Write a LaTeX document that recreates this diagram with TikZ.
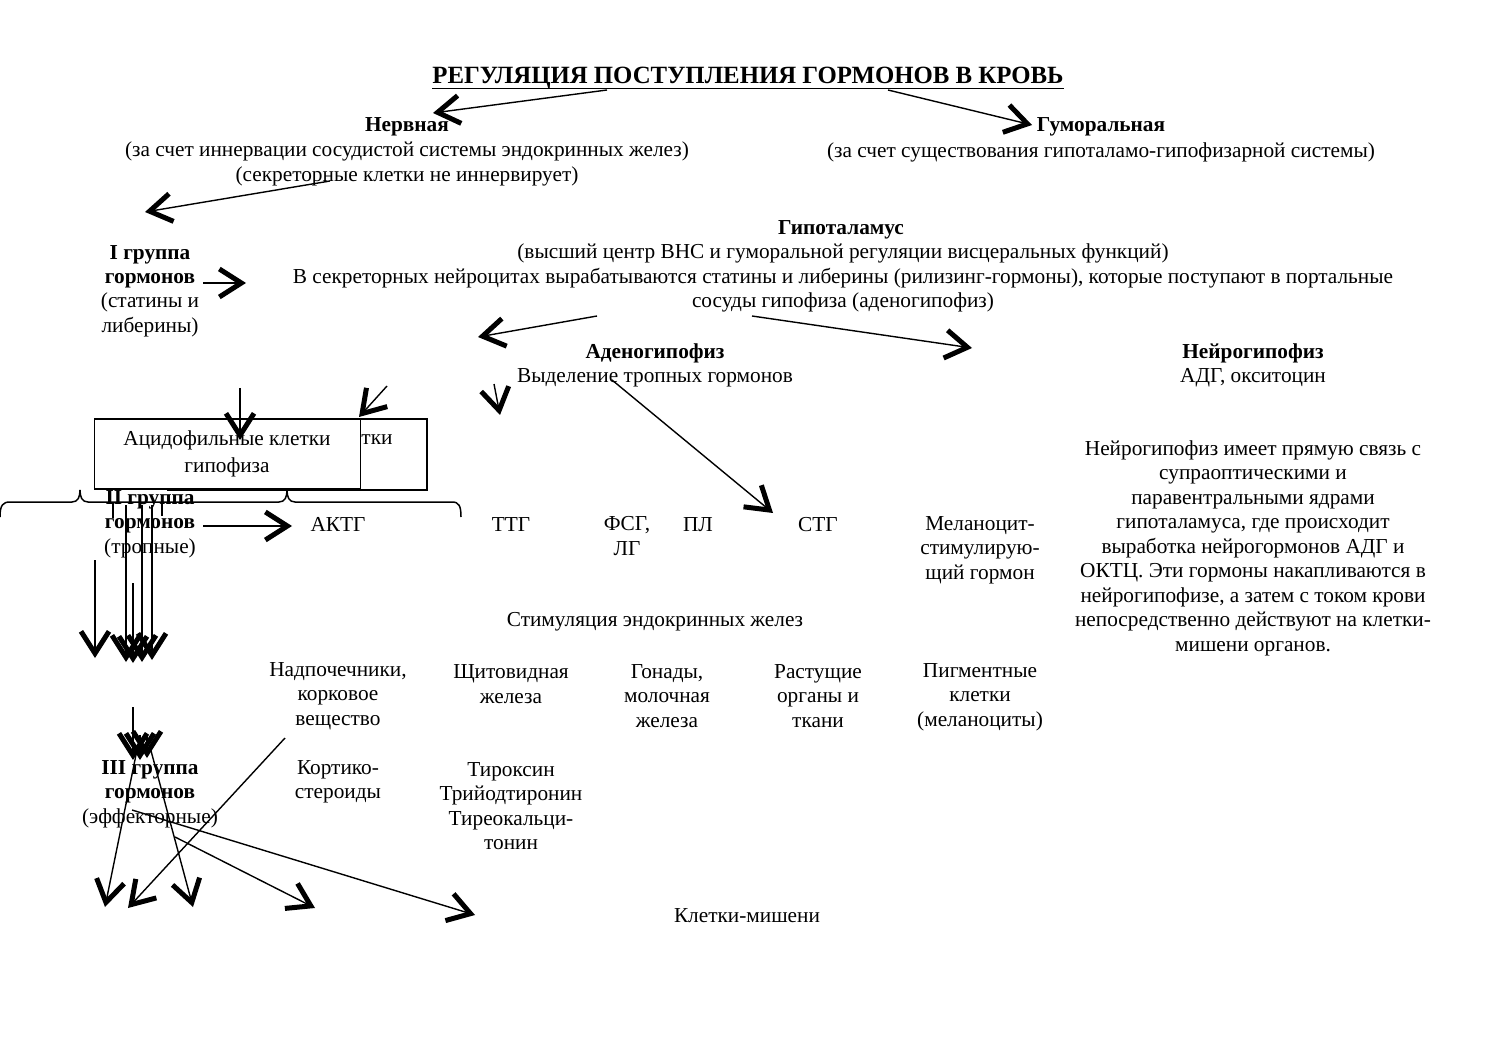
\documentclass[tikz,border=0pt]{standalone}
\usepackage{fontspec}
\setmainfont{Liberation Serif}
\usetikzlibrary{arrows.meta}
\begin{document}
\begin{tikzpicture}[x=0.5pt,y=-0.5pt,
  txt/.style={font=\fontsize{10.65}{12.25}\selectfont, inner sep=0pt, align=center},
  bt/.style={inner sep=0pt, align=center, font=\fontsize{10.65}{12.25}\selectfont\bfseries},
  ln/.style={line width=0.75pt},
  arr/.style={line width=0.7pt, -{Straight Barb[length=11pt,width=14pt,line width=2.5pt]}},
  boxst/.style={draw, line width=0.9pt, fill=white, inner sep=0pt},
]
\useasboundingbox (0,0) rectangle (1497,1058);

% title
\node[inner sep=0pt, font=\fontsize{12.4}{14}\selectfont\bfseries] (title) at (748,78) {РЕГУЛЯЦИЯ ПОСТУПЛЕНИЯ ГОРМОНОВ В КРОВЬ};
\draw[line width=0.9pt] ([yshift=-2.5pt]title.base west) -- ([yshift=-2.5pt]title.base east);

% top level
\node[bt] (nerv) at (407,127) {Нервная};
\node[txt] (nervt) at (407,164) {(за счет иннервации сосудистой системы эндокринных желез)\\(секреторные клетки не иннервирует)};
\node[bt] (gum) at (1101,127) {Гуморальная};
\node[txt] (gumt) at (1101,152) {(за счет существования гипоталамо-гипофизарной системы)};

% hypothalamus
\node[bt] (hyp) at (841,230) {Гипоталамус};
\node[txt] (hypt) at (843,278) {(высший центр ВНС и гуморальной регуляции висцеральных функций)\\В секреторных нейроцитах вырабатываются статины и либерины (рилизинг-гормоны), которые поступают в портальные\\сосуды гипофиза (аденогипофиз)};

% group I
\node[bt] (g1) at (150,267) {I группа\\гормонов};
\node[txt] (g1t) at (150,315) {(статины и\\либерины)};

% adeno / neuro
\node[bt] (aden) at (655,353) {Аденогипофиз};
\node[txt] (adent) at (655,378) {Выделение тропных гормонов};
\node[bt] (neur) at (1253,353) {Нейрогипофиз};
\node[txt] (neurt) at (1253,378) {АДГ, окситоцин};
\node[txt] (neurp) at (1253,548) {Нейрогипофиз имеет прямую связь с\\супраоптическими и\\паравентральными ядрами\\гипоталамуса, где происходит\\выработка нейрогормонов АДГ и\\ОКТЦ. Эти гормоны накапливаются в\\нейрогипофизе, а затем с током крови\\непосредственно действуют на клетки-\\мишени органов.};

% boxes
\node[boxst, minimum width=129.5pt, minimum height=35.5pt] (box2) at (297.5,454.5) {};
\node[txt] (box2t) at (377,440) {тки};
\node[boxst, minimum width=133pt, minimum height=35pt] (box1) at (227.5,454) {};
\node[txt, font=\fontsize{10.65}{13.5}\selectfont] (box1t) at (227,454) {Ацидофильные клетки\\гипофиза};

% brace
\draw[ln] (0,517) .. controls (0,505) and (3,502) .. (10,502) -- (72,502)
  .. controls (78,502) and (80,497) .. (80,490) .. controls (80,497) and (82,502) .. (88,502)
  -- (279,502) .. controls (285,502) and (287,497) .. (287,490) .. controls (287,497) and (289,502) .. (295,502)
  -- (452,502) .. controls (459,502) and (461,506) .. (461,517);
\draw[ln] (113,503) -- (113,518);
\draw[ln] (162,503) -- (162,516);

% group II
\node[bt] (g2) at (150,512) {II группа\\гормонов};
\node[txt] (g2t) at (150,548) {(тропные)};

\node[txt, anchor=base] (aktg) at (338,531) {АКТГ};
\node[txt, anchor=base] (ttg) at (511,531) {ТТГ};
\node[txt] (fsg) at (627,536) {ФСГ,\\ЛГ};
\node[txt, anchor=base] (pl) at (698,531) {ПЛ};
\node[txt, anchor=base] (stg) at (818,531) {СТГ};
\node[txt] (msg) at (980,550) {Меланоцит-\\стимулирую-\\щий гормон};

\node[txt] (stim) at (655,622) {Стимуляция эндокринных желез};

\node[txt] (nadp) at (338,696) {Надпочечники,\\корковое\\вещество};
\node[txt] (shch) at (511,684) {Щитовидная\\железа};
\node[txt] (gon) at (667,696) {Гонады,\\молочная\\железа};
\node[txt] (rast) at (818,696) {Растущие\\органы и\\ткани};
\node[txt] (pigm) at (980,697) {Пигментные\\клетки\\(меланоциты)};

% group III
\node[bt] (g3) at (150,782) {III группа\\гормонов};
\node[txt] (g3t) at (150,818) {(эффекторные)};
\node[txt] (kort) at (338,782) {Кортико-\\стероиды};
\node[txt] (tir) at (511,806) {Тироксин\\Трийодтиронин\\Тиреокальци-\\тонин};

\node[txt] (kletki) at (747,916) {Клетки-мишени};

% free ends of connectors
\coordinate (t1) at (607,90);   \coordinate (h1) at (433,113);
\coordinate (t2) at (888,90);   \coordinate (h2) at (1032,125);
\coordinate (t3) at (330,181);  \coordinate (h3) at (145,212);
\coordinate (t4) at (203,283);  \coordinate (h4) at (246,283);
\coordinate (t5) at (597,316);  \coordinate (h5) at (478,337);
\coordinate (t6) at (752,316);  \coordinate (h6) at (972,348);
\coordinate (t7) at (240,388);  \coordinate (h7) at (240,440);
\coordinate (t8) at (387,386);  \coordinate (h8) at (359,417);
\coordinate (t9) at (494,384);  \coordinate (h9) at (500,415);
\coordinate (t10) at (612,380); \coordinate (h10) at (773,513);
\coordinate (t11) at (203,526); \coordinate (h11) at (292,526);

\draw[arr] (t1) -- (h1);
\draw[arr] (t2) -- (h2);
\draw[arr] (t3) -- (h3);
\draw[arr] (t4) -- (h4);
\draw[arr] (t5) -- (h5);
\draw[arr] (t6) -- (h6);
\draw[arr] (t7) -- (h7);
\draw[arr] (t8) -- (h8);
\draw[arr] (t9) -- (h9);
\draw[arr] (t10) -- (h10);
\draw[arr] (t11) -- (h11);

% vertical bundle
\coordinate (v1a) at (95,560);  \coordinate (v1b) at (95,658);
\coordinate (v2a) at (126,505); \coordinate (v2b) at (126,662);
\coordinate (v3a) at (133,583); \coordinate (v3b) at (133,663);
\coordinate (v4a) at (142,505); \coordinate (v4b) at (142,662);
\coordinate (v5a) at (152,505); \coordinate (v5b) at (152,660);
\draw[arr] (v1a) -- (v1b);
\draw[arr] (v2a) -- (v2b);
\draw[arr] (v3a) -- (v3b);
\draw[arr] (v4a) -- (v4b);
\draw[arr] (v5a) -- (v5b);

\coordinate (w1a) at (133,707); \coordinate (w1b) at (133,760);
\coordinate (w2a) at (140,735); \coordinate (w2b) at (140,760);
\coordinate (w3a) at (147,735); \coordinate (w3b) at (147,758);
\draw[arr] (w1a) -- (w1b);
\draw[arr] (w2a) -- (w2b);
\draw[arr] (w3a) -- (w3b);

% effector arrows
\coordinate (e1a) at (137,750); \coordinate (e1b) at (105,907);
\coordinate (e2a) at (150,747); \coordinate (e2b) at (193,907);
\coordinate (e3a) at (285,738); \coordinate (e3b) at (128,908);
\coordinate (e4a) at (132,810); \coordinate (e4b) at (475,915);
\coordinate (e5a) at (175,837); \coordinate (e5b) at (315,908);
\draw[arr] (e1a) -- (e1b);
\draw[arr] (e2a) -- (e2b);
\draw[arr] (e3a) -- (e3b);
\draw[arr] (e4a) -- (e4b);
\draw[arr] (e5a) -- (e5b);
\end{tikzpicture}
\end{document}
